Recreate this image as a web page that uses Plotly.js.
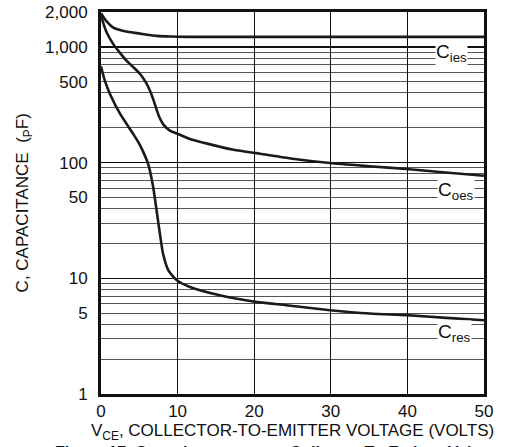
<!DOCTYPE html>
<html>
<head>
<meta charset="utf-8">
<script src="https://cdn.plot.ly/plotly-3.0.1.min.js"></script>
<style>html,body{margin:0;padding:0;background:#fff;}#chart{width:519px;height:447px;}</style>
</head>
<body>
<div id="chart"></div>
<script>
// Data
var ciesX = [0, 0.6, 1.6, 2.8, 4.2, 5.8, 7.3, 9, 11.2, 20, 30, 40, 50];
var ciesY = [1950, 1700, 1467, 1380, 1327, 1280, 1244, 1228, 1220, 1220, 1220, 1220, 1220];

var coesX = [0, 0.7, 1.6, 2.4, 3.35, 4.3, 5.1, 5.8, 6.4, 6.9, 7.3, 7.7, 8.1, 9, 10.2, 11.6, 14, 17.3, 20.8, 25, 29.9, 35, 39.9, 45, 50];
var coesY = [1850, 1350, 1055, 900, 757, 660, 582, 500, 418, 340, 281, 240, 215, 189, 175, 160, 145, 129, 119, 108, 99, 93, 88, 82, 77];

var cresX = [0, 0.5, 1.17, 2.5, 4.2, 5.0, 5.6, 6.2, 6.8, 7.26, 7.7, 8.1, 8.8, 9.9, 11.6, 15.5, 19.9, 24.2, 29.9, 35.1, 39.9, 45.1, 50];
var cresY = [680, 510, 391, 263, 177, 145, 120, 95, 62, 38.5, 24, 16.3, 11.7, 9.6, 8.4, 7.13, 6.3, 5.85, 5.3, 4.96, 4.8, 4.55, 4.34];

var xTickVals = [0, 10, 20, 30, 40, 50];
var yTickVals = [1, 5, 10, 50, 100, 500, 1000, 2000];
var yTickText = ['1', '5', '10', '50', '100', '500', '1,000', '2,000'];
var yMinorGrid = [2,3,4,5,6,7,8,9,20,30,40,50,60,70,80,90,200,300,400,500,600,700,800,900];
var yDecadeGrid = [10, 100, 1000];

var seriesNames = ['C<sub>ies</sub>', 'C<sub>oes</sub>', 'C<sub>res</sub>'];
var labelX = [45.8, 46.3, 46.2];
var labelY = [888, 57, 3.4];

var font = 'Liberation Sans, Arial, Helvetica, sans-serif';
var lineStyle = {color: '#1a1a1a', width: 2.6, shape: 'spline', smoothing: 0.6};

var traces = [
  {x: ciesX, y: ciesY, mode: 'lines', line: lineStyle, hoverinfo: 'skip'},
  {x: coesX, y: coesY, mode: 'lines', line: lineStyle, hoverinfo: 'skip'},
  {x: cresX, y: cresY, mode: 'lines', line: lineStyle, hoverinfo: 'skip'}
];

var annotations = seriesNames.map(function(n, i){
  return {x: labelX[i], y: Math.log10(labelY[i]), xref: 'x', yref: 'y', text: n,
    showarrow: false, bgcolor: '#fff', borderpad: 0,
    font: {family: font, size: 19, color: '#111'}};
});
annotations.push({xref: 'paper', yref: 'paper', x: -0.2, xanchor: 'center', y: 0.5, yanchor: 'middle', textangle: -90,
  text: 'C, CAPACITANCE  (<sub>P</sub>F)', showarrow: false,
  font: {family: font, size: 17, color: '#111'}});
annotations.push({xref: 'paper', yref: 'paper', x: 0.5, xanchor: 'center', y: -0.1, yanchor: 'middle',
  text: 'V<sub>CE</sub>, COLLECTOR-TO-EMITTER VOLTAGE (VOLTS)', showarrow: false,
  font: {family: font, size: 17, color: '#111'}});
annotations.push({xref: 'paper', yref: 'paper', x: -0.125, xanchor: 'left', y: -0.152, yanchor: 'middle',
  text: '<b>Figure 17. Capacitance versus Collector-To-Emitter Voltage</b>', showarrow: false,
  font: {family: font, size: 16, color: '#111'}});

var layout = {
  width: 519, height: 447,
  margin: {l: 101, r: 35, t: 12, b: 53, pad: 0},
  paper_bgcolor: '#fff', plot_bgcolor: '#fff',
  showlegend: false,
  xaxis: {
    range: [0, 50], tickvals: xTickVals, ticks: '', ticklabelstandoff: 0,
    showgrid: true, gridcolor: '#111', gridwidth: 1, zeroline: false,
    showline: true, linecolor: '#111', linewidth: 3, mirror: true,
    tickfont: {family: font, size: 17, color: '#111'}, fixedrange: true
  },
  yaxis: {
    type: 'log', range: [0, Math.log10(2000)],
    tickvals: yTickVals, ticktext: yTickText, ticks: '', ticklabelstandoff: 7,
    showgrid: false, zeroline: false,
    minor: {tickvals: yMinorGrid, showgrid: true, gridcolor: '#555', gridwidth: 1, ticks: ''},
    showline: true, linecolor: '#111', linewidth: 3, mirror: true,
    tickfont: {family: font, size: 17, color: '#111'}, fixedrange: true
  },
  yaxis2: {
    type: 'log', range: [0, Math.log10(2000)], overlaying: 'y',
    tickvals: yDecadeGrid, showticklabels: false, ticks: '',
    showgrid: true, gridcolor: '#111', gridwidth: 1.5, zeroline: false, showline: false
  },
  annotations: annotations
};

// empty trace so the decade-grid overlay axis is drawn
traces.push({x: [], y: [], yaxis: 'y2', hoverinfo: 'skip'});

Plotly.newPlot('chart', traces, layout, {staticPlot: true});
</script>
</body>
</html>
